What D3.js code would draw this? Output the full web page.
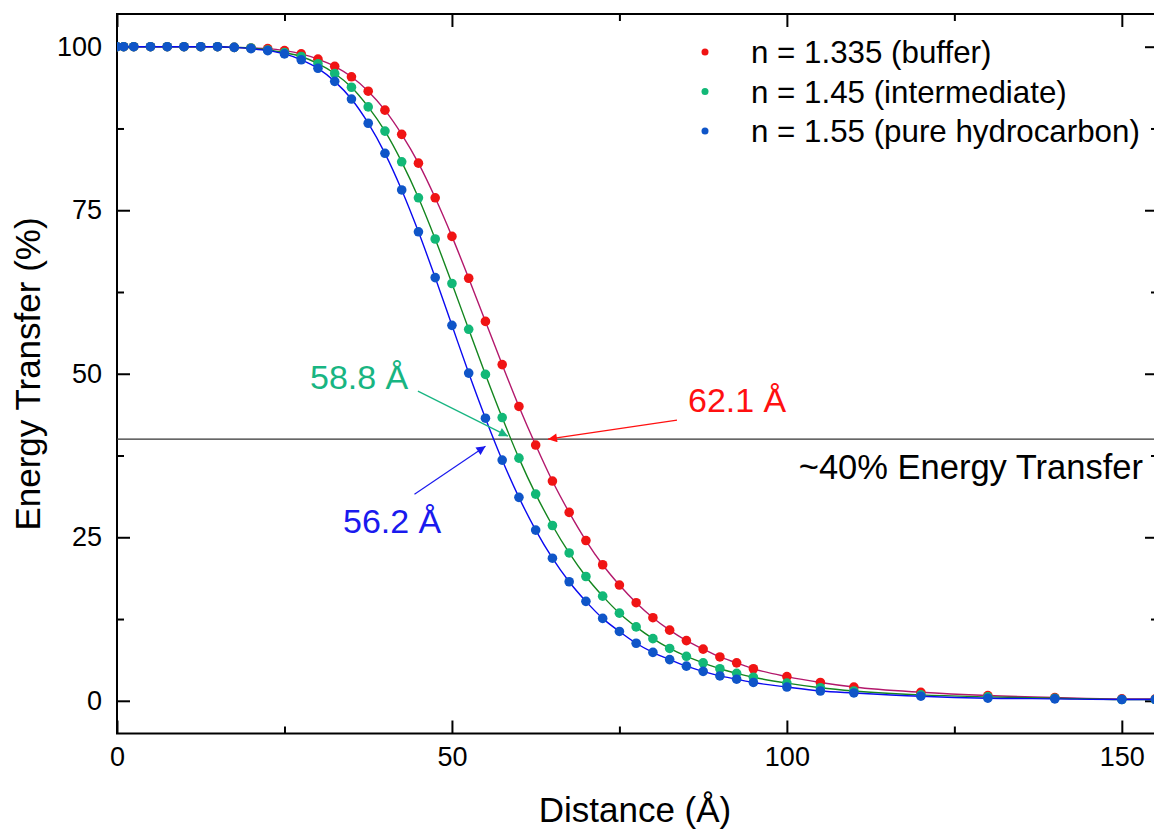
<!DOCTYPE html>
<meta charset="utf-8">
<head>
    <title>Energy Transfer vs Distance</title>
    <script src="https://d3js.org/d3.v7.min.js"></script>
    <style>
        body { margin: 0; background: #fff; }
        text { font-family: "Liberation Sans", Arial, sans-serif; }
    </style>
</head>
<body>
<script>

    // distance (Angstrom) of every marker
    var distance = [0, 1, 2.5, 5, 7.5, 10, 12.5, 15, 17.5, 20, 22.5, 25, 27.5, 30, 32.5, 35, 37.5, 40,
        42.5, 45, 47.5, 50, 52.5, 55, 57.5, 60, 62.5, 65, 67.5, 70, 72.5, 75, 77.5, 80, 82.5, 85,
        87.5, 90, 92.5, 95, 100, 105, 110, 120, 130, 140, 150, 155];

    // energy transfer (%)
    var buffer = [100, 100, 100, 100, 100, 100, 100, 100, 99.9, 99.8, 99.7, 99.4, 98.9, 98.1, 97.0, 95.4,
        93.2, 90.3, 86.6, 82.2, 76.9, 71.0, 64.6, 58.0, 51.4, 45.0, 39.1, 33.6, 28.8, 24.5, 20.8, 17.7,
        15.0, 12.7, 10.8, 9.2, 7.9, 6.7, 5.8, 4.9, 3.7, 2.8, 2.1, 1.3, 0.8, 0.5, 0.3, 0.3];
    var intermediate = [100, 100, 100, 100, 100, 100, 100, 100, 99.9, 99.8, 99.5, 99.1, 98.5, 97.4, 95.9, 93.8,
        90.8, 87.1, 82.4, 76.9, 70.6, 63.8, 56.8, 49.9, 43.3, 37.1, 31.6, 26.8, 22.6, 19.0, 16.0, 13.4,
        11.3, 9.5, 8.0, 6.8, 5.8, 4.9, 4.2, 3.6, 2.7, 2.0, 1.5, 0.9, 0.6, 0.4, 0.2, 0.2];
    var hydrocarbon = [100, 100, 100, 100, 100, 100, 100, 100, 99.9, 99.7, 99.4, 98.9, 98.0, 96.7, 94.7, 92.0,
        88.3, 83.7, 78.1, 71.7, 64.7, 57.4, 50.1, 43.2, 36.8, 31.1, 26.1, 21.8, 18.2, 15.2, 12.6, 10.6,
        8.8, 7.4, 6.3, 5.3, 4.5, 3.8, 3.3, 2.8, 2.1, 1.5, 1.2, 0.7, 0.4, 0.3, 0.2, 0.2];

    var seriesNames = ["n = 1.335 (buffer)", "n = 1.45 (intermediate)", "n = 1.55 (pure hydrocarbon)"];

    // crossing points at the 40% line
    var crossLabels = ["62.1 \u00C5", "58.8 \u00C5", "56.2 \u00C5"];
    var crossValues = [62.1, 58.8, 56.2];
    var thresholdLevel = 40;

    var xMajor = [0, 50, 100, 150],
        xMinor = [25, 75, 125],
        yMajor = [0, 25, 50, 75, 100],
        yMinor = [12.5, 37.5, 62.5, 87.5];

    var width = 1154,
        height = 830;
    // note: "top" is taken by window.top, so use plot* names
    var plotLeft = 117, plotTop = 14, plotRight = 1158, plotBottom = 733.5;

    var lineColors = ["#b3186c", "#14861f", "#0a0af0"];
    var dotColors = ["#f01414", "#12b877", "#0f55c8"];
    var labelColors = ["#ff1010", "#18b582", "#1a1aee"];

    var svg = d3.select("body").append("svg")
        .attr("width", width)
        .attr("height", height);

    var x = d3.scaleLinear().domain([0, 155.4]).range([plotLeft, plotRight]);
    var y = d3.scaleLinear().domain([-5, 105]).range([plotBottom, plotTop]);

    svg.append("clipPath").attr("id", "plotClip")
        .append("rect")
        .attr("x", plotLeft).attr("y", plotTop)
        .attr("width", plotRight - plotLeft).attr("height", plotBottom - plotTop);

    // axes: ticks point inward on every side
    function styleAxis(g) {
        g.select(".domain").remove();
        g.attr("font-size", null).attr("font-family", null);
        g.selectAll(".tick line").attr("stroke", "#000").attr("stroke-width", 2);
        g.selectAll(".tick text")
            .attr("fill", "#000")
            .style("font-family", "'Liberation Sans', Arial, sans-serif")
            .style("font-size", "27px");
    }

    svg.append("g").attr("transform", "translate(0," + plotBottom + ")")
        .call(d3.axisBottom(x).tickValues(xMajor).tickSize(-13).tickPadding(13).tickFormat(d3.format("d")))
        .call(styleAxis);
    svg.append("g").attr("transform", "translate(0," + plotBottom + ")")
        .call(d3.axisBottom(x).tickValues(xMinor).tickSize(-7).tickFormat(""))
        .call(styleAxis);
    svg.append("g").attr("transform", "translate(0," + plotTop + ")")
        .call(d3.axisTop(x).tickValues(xMajor).tickSize(-13).tickFormat(""))
        .call(styleAxis);
    svg.append("g").attr("transform", "translate(0," + plotTop + ")")
        .call(d3.axisTop(x).tickValues(xMinor).tickSize(-7).tickFormat(""))
        .call(styleAxis);

    svg.append("g").attr("transform", "translate(" + plotLeft + ",0)")
        .call(d3.axisLeft(y).tickValues(yMajor).tickSize(-13).tickPadding(15).tickFormat(d3.format("d")))
        .call(styleAxis);
    svg.append("g").attr("transform", "translate(" + plotLeft + ",0)")
        .call(d3.axisLeft(y).tickValues(yMinor).tickSize(-7).tickFormat(""))
        .call(styleAxis);
    svg.append("g").attr("transform", "translate(" + plotRight + ",0)")
        .call(d3.axisRight(y).tickValues(yMajor).tickSize(-13).tickFormat(""))
        .call(styleAxis);
    svg.append("g").attr("transform", "translate(" + plotRight + ",0)")
        .call(d3.axisRight(y).tickValues(yMinor).tickSize(-7).tickFormat(""))
        .call(styleAxis);

    svg.append("rect")
        .attr("x", plotLeft).attr("y", plotTop)
        .attr("width", plotRight - plotLeft).attr("height", plotBottom - plotTop)
        .attr("fill", "none")
        .attr("stroke", "#000")
        .attr("stroke-width", 2);

    // axis titles
    svg.append("text")
        .attr("x", 635).attr("y", 822)
        .attr("text-anchor", "middle")
        .style("font-size", "35px")
        .text("Distance (\u00C5)");

    svg.append("text")
        .attr("transform", "translate(40,374) rotate(-90)")
        .attr("text-anchor", "middle")
        .style("font-size", "35px")
        .text("Energy Transfer (%)");

    // 40% reference line
    svg.append("line")
        .attr("x1", plotLeft).attr("x2", plotRight)
        .attr("y1", y(thresholdLevel)).attr("y2", y(thresholdLevel))
        .attr("stroke", "#333")
        .attr("stroke-width", 1.3);

    svg.append("text")
        .attr("x", 1143).attr("y", y(thresholdLevel) + 40)
        .attr("text-anchor", "end")
        .style("font-size", "34.5px")
        .text("~" + thresholdLevel + "% Energy Transfer");

    // curves and markers
    var allSeries = [buffer, intermediate, hydrocarbon];
    var plot = svg.append("g").attr("clip-path", "url(#plotClip)");

    var line = d3.line()
        .x(function (d) { return x(d[0]); })
        .y(function (d) { return y(d[1]); })
        .curve(d3.curveMonotoneX);

    allSeries.forEach(function (values, i) {
        var pts = distance.map(function (d, j) { return [d, values[j]]; });
        plot.append("path")
            .datum(pts)
            .attr("fill", "none")
            .attr("stroke", lineColors[i])
            .attr("stroke-width", 1.4)
            .attr("d", line);
        plot.selectAll(".dot" + i)
            .data(pts)
            .enter().append("circle")
            .attr("class", "dot" + i)
            .attr("cx", function (d) { return x(d[0]); })
            .attr("cy", function (d) { return y(d[1]); })
            .attr("r", 4.8)
            .attr("fill", dotColors[i]);
    });

    // legend
    seriesNames.forEach(function (name, i) {
        var ly = 52 + i * 39.5;
        svg.append("circle")
            .attr("cx", 705).attr("cy", ly)
            .attr("r", 3.5)
            .attr("fill", dotColors[i]);
        svg.append("text")
            .attr("x", 751).attr("y", ly)
            .attr("dy", "0.36em")
            .style("font-size", "31.3px")
            .text(name);
    });

    // annotation arrows
    var defs = svg.append("defs");
    labelColors.forEach(function (c, i) {
        defs.append("marker")
            .attr("id", "head" + i)
            .attr("viewBox", "0 0 10 10")
            .attr("refX", 10).attr("refY", 5)
            .attr("markerWidth", 15).attr("markerHeight", 9)
            .attr("markerUnits", "userSpaceOnUse")
            .attr("orient", "auto")
            .append("path")
            .attr("d", "M0,0 L10,5 L0,10 Z")
            .attr("fill", c);
    });

    var yc = y(thresholdLevel);
    var arrows = [
        { tip: [x(crossValues[0]) + 15, yc], tail: [x(crossValues[0]) + 144, yc - 19], text: [688, yc - 27] },
        { tip: [x(crossValues[1]) - 3, yc - 3], tail: [x(crossValues[1]) - 93, yc - 48], text: [310, yc - 50] },
        { tip: [x(crossValues[2]) - 8, yc + 7], tail: [x(crossValues[2]) - 79, yc + 55], text: [343, yc + 94] }
    ];

    arrows.forEach(function (a, i) {
        svg.append("line")
            .attr("x1", a.tail[0]).attr("y1", a.tail[1])
            .attr("x2", a.tip[0]).attr("y2", a.tip[1])
            .attr("stroke", labelColors[i])
            .attr("stroke-width", 1.2)
            .attr("marker-end", "url(#head" + i + ")");
        svg.append("text")
            .attr("x", a.text[0]).attr("y", a.text[1])
            .attr("fill", labelColors[i])
            .style("font-size", "34px")
            .text(crossLabels[i]);
    });

</script>
</body>
